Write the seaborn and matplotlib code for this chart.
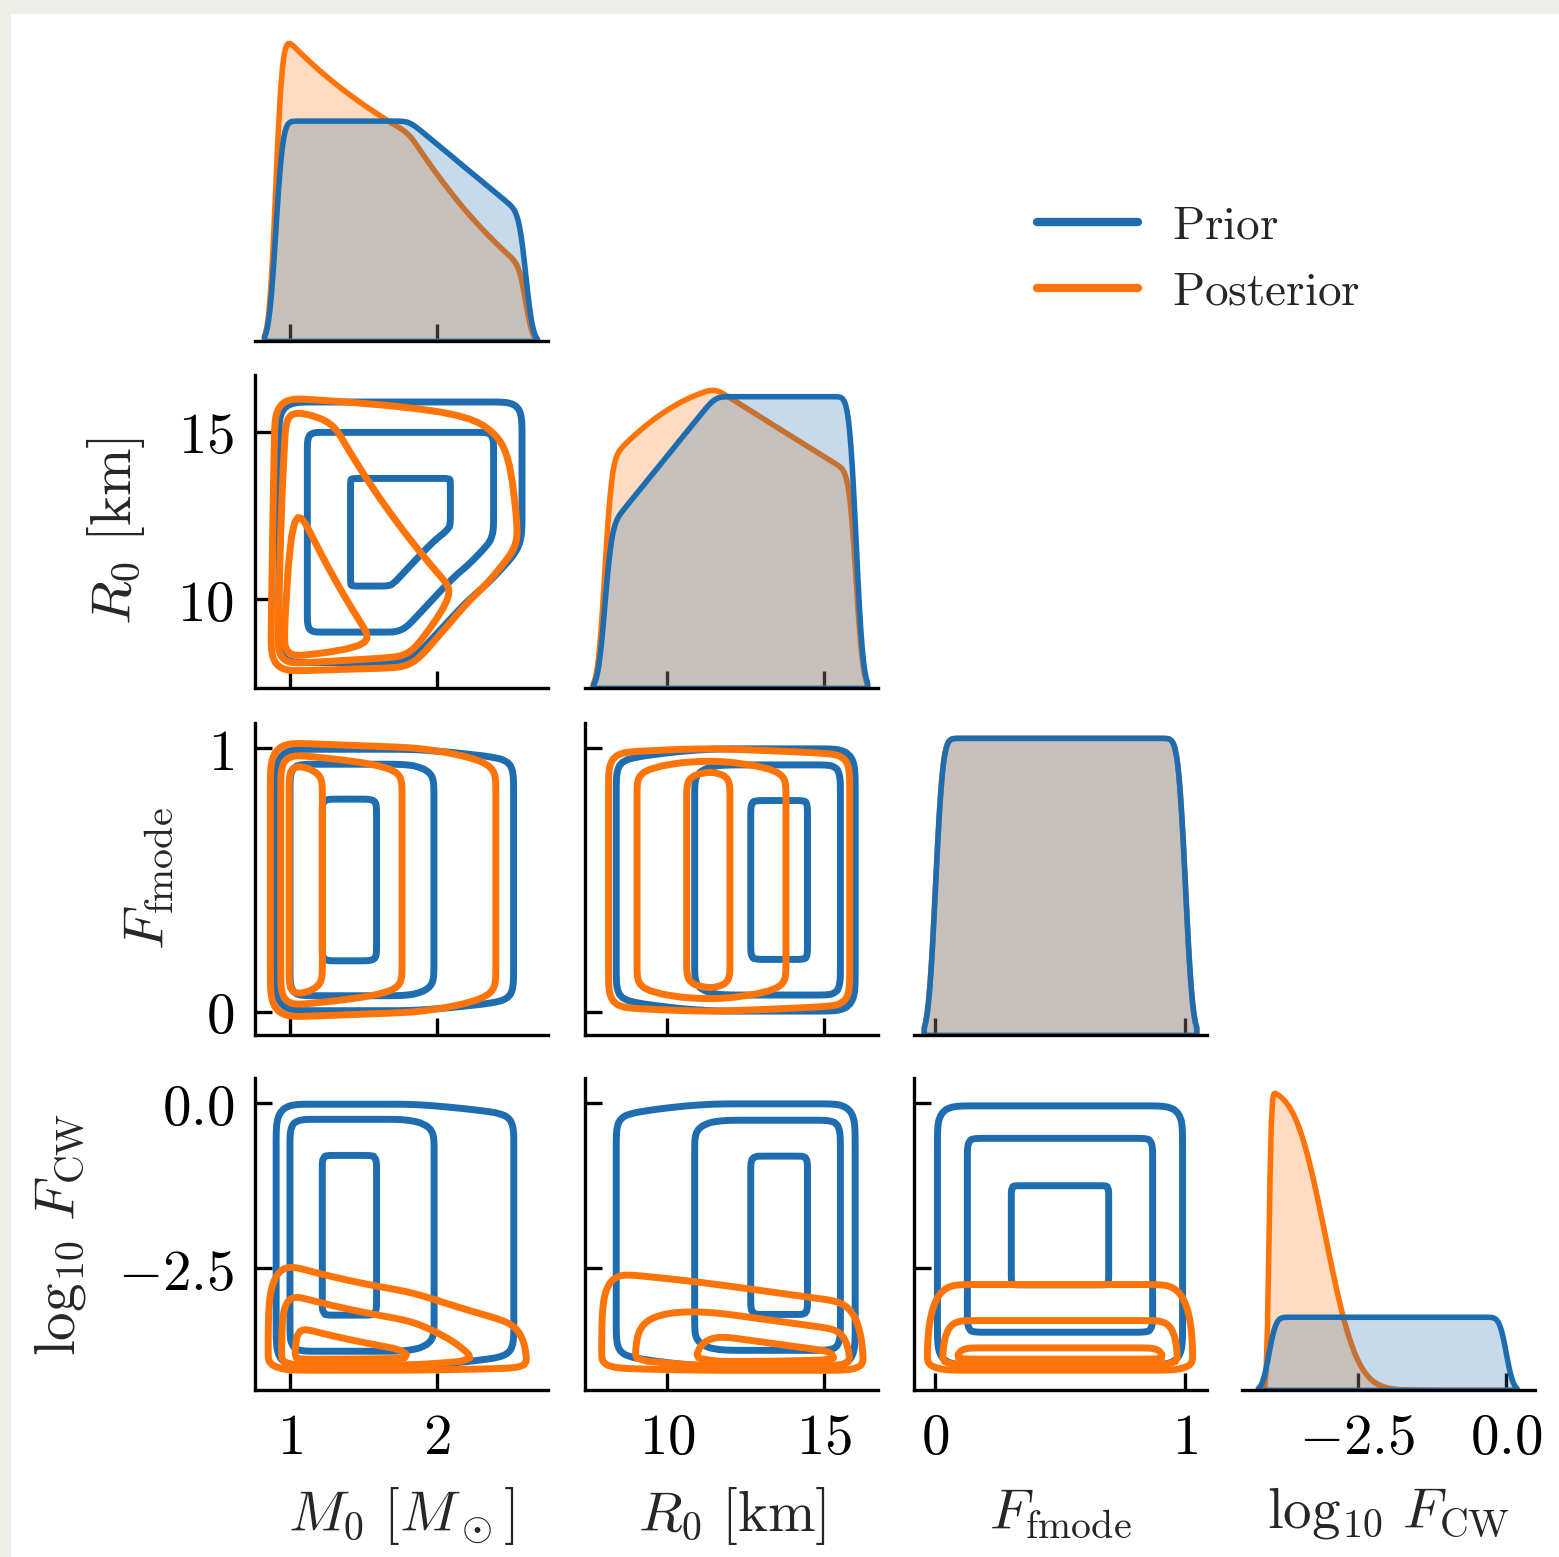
import numpy as np
import matplotlib
matplotlib.use("Agg")
import matplotlib.pyplot as plt
from matplotlib.lines import Line2D
from matplotlib.patches import Rectangle
from matplotlib.ticker import FixedLocator, FixedFormatter, NullLocator
import seaborn as sns

# ---------------------------------------------------------------------------
# Model: neutron-star mass/radius, f-mode fraction and CW amplitude fraction
# ---------------------------------------------------------------------------
PARAM_LABELS = [r"$M_0\ [M_\odot]$", r"$R_0\ [\mathrm{km}]$",
                r"$F_\mathrm{fmode}$", r"$\log_{10}\, F_\mathrm{CW}$"]

M0_RANGE = [0.9, 2.6]          # solar masses
R0_RANGE = [8.0, 16.0]         # km
FMODE_RANGE = [0.0, 1.0]
LOGFCW_RANGE = [-4.0, 0.0]
COMPACTNESS_MAX = 1.0 / 3.0    # GM / (R c^2)
GM_SUN_KM = 1.4766

# upper limit on log10 F_CW from the non-detection:
# limit = REF - s_M log10(M0 / M_sun) - s_R (R0 - 10 km), smeared by WIDTH
CW_LIMIT_AT_REF = -2.56
CW_LIMIT_SLOPES = [1.55, 0.066]
CW_LIMIT_WIDTH = 0.18

# axes
TICK_VALUES = [[1, 2], [10, 15], [0, 1], [-2.5, 0.0]]
TICK_LABELS = [["$1$", "$2$"], ["$10$", "$15$"], ["$0$", "$1$"], ["$-2.5$", "$0.0$"]]
X_LIMITS = [[0.762, 2.752], [7.39, 16.71], [-0.084, 1.088], [-4.446, 0.49]]
Y_LIMITS = [None, [7.355, 16.69], [-0.0886, 1.096], [-4.344, 0.383]]

SERIES = ["Prior", "Posterior"]
COLORS = {"Prior": "#1f6db1", "Posterior": "#ff7408"}

# iso-proportion levels of the 2-D densities
CONTOUR_LEVELS = [0.1, 0.45, 0.85]


def centres(bounds, n):
    edges = np.linspace(bounds[0], bounds[1], n + 1)
    return 0.5 * (edges[1:] + edges[:-1])


def joint_weight(m, r, l, posterior):
    """Density of (M0, R0, log10 F_CW) on a grid; F_fmode is independent."""
    M, R, L = np.meshgrid(m, r, l, indexing="ij")
    w = (R >= GM_SUN_KM * M / COMPACTNESS_MAX).astype(float)
    if posterior:
        limit = (CW_LIMIT_AT_REF - CW_LIMIT_SLOPES[0] * np.log10(M)
                 - CW_LIMIT_SLOPES[1] * (R - 10.0))
        w *= 1.0 / (1.0 + np.exp((L - limit) / CW_LIMIT_WIDTH))
    return w


# one-dimensional marginals on fine grids
FINE, COARSE = 400, 80
m_f, r_f = centres(M0_RANGE, FINE), centres(R0_RANGE, FINE)
f_f, l_f = centres(FMODE_RANGE, FINE), centres(LOGFCW_RANGE, FINE)
m_c, r_c, l_c = centres(M0_RANGE, COARSE), centres(R0_RANGE, COARSE), centres(LOGFCW_RANGE, COARSE)

marginals = {}
for s in SERIES:
    post = s == "Posterior"
    marginals[s] = [
        (m_f, joint_weight(m_f, r_c, l_c, post).sum(axis=(1, 2))),
        (r_f, joint_weight(m_c, r_f, l_c, post).sum(axis=(0, 2))),
        (f_f, np.ones(FINE)),
        (l_f, joint_weight(m_c, r_c, l_f, post).sum(axis=(0, 1))),
    ]

# two-dimensional marginals
m2, r2, l2 = centres(M0_RANGE, 60), centres(R0_RANGE, 60), centres(LOGFCW_RANGE, 60)
f2 = centres(FMODE_RANGE, 30)
ones_f = np.ones_like(f2)
pairs = {}
for s in SERIES:
    cube = joint_weight(m2, r2, l2, s == "Posterior")
    mr, ml, rl = cube.sum(axis=2), cube.sum(axis=1), cube.sum(axis=0)
    pm, pr, pl = mr.sum(axis=1), mr.sum(axis=0), ml.sum(axis=0)
    pairs[s] = {
        (1, 0): (m2, r2, mr),
        (2, 0): (m2, f2, np.outer(pm, ones_f)),
        (3, 0): (m2, l2, ml),
        (2, 1): (r2, f2, np.outer(pr, ones_f)),
        (3, 1): (r2, l2, rl),
        (3, 2): (f2, l2, np.outer(ones_f, pl)),
    }

# ---------------------------------------------------------------------------
# Figure
# ---------------------------------------------------------------------------
sns.set_theme(style="ticks")
plt.rcParams.update({
    "mathtext.fontset": "cm",
    "font.family": ["DejaVu Sans"],
    "axes.linewidth": 2.4,
    "axes.edgecolor": "black",
    "xtick.color": "black",
    "ytick.color": "black",
})

W, H = 1559, 1557
fig = plt.figure(figsize=(W / 100, H / 100), dpi=100, facecolor="#efefea")
fig.patches.append(Rectangle((11 / W, 0), 1, (H - 14) / H, transform=fig.transFigure,
                             facecolor="white", edgecolor="none", zorder=-10))

COL_LEFT = [255, 585, 914, 1242]
COL_WIDTH = 293
ROW_SPAN = [(28, 341), (375, 688), (723, 1035), (1078, 1390)]

axes = {}
for i in range(4):
    for j in range(i + 1):
        top, bottom = ROW_SPAN[i]
        axes[(i, j)] = fig.add_axes([COL_LEFT[j] / W, 1 - bottom / H,
                                     COL_WIDTH / W, (bottom - top) / H])

# diagonal: 1-D densities
for k in range(4):
    ax = axes[(k, k)]
    for s in ["Posterior", "Prior"]:
        x, w = marginals[s][k]
        sns.kdeplot(x=x, weights=w, fill=True, alpha=0.25, color=COLORS[s],
                    linewidth=4.0, bw_method=0.08, cut=2, ax=ax)
    for side in ["left", "top", "right"]:
        ax.spines[side].set_visible(False)
    ax.yaxis.set_major_locator(NullLocator())
    ax.set_ylabel("")

# lower triangle: 2-D density contours
for (i, j), ax in axes.items():
    if i == j:
        continue
    for s in SERIES:
        x, y, w = pairs[s][(i, j)]
        X, Y = np.meshgrid(x, y, indexing="ij")
        keep = w > w.max() * 1e-9
        sns.kdeplot(x=X[keep], y=Y[keep], weights=w[keep], levels=CONTOUR_LEVELS,
                    color=COLORS[s], linewidths=5.0, bw_method=0.16,
                    gridsize=100, ax=ax)
    for side in ["top", "right"]:
        ax.spines[side].set_visible(False)
    ax.set_ylim(Y_LIMITS[i])
    ax.yaxis.set_major_locator(FixedLocator(TICK_VALUES[i]))
    ax.yaxis.set_major_formatter(FixedFormatter(TICK_LABELS[i]))

for (i, j), ax in axes.items():
    ax.set_xlim(X_LIMITS[j])
    ax.xaxis.set_major_locator(FixedLocator(TICK_VALUES[j]))
    ax.xaxis.set_major_formatter(FixedFormatter(TICK_LABELS[j]))
    ax.tick_params(direction="in", length=12, width=2.4, pad=15, labelsize=41,
                   bottom=True, left=(i != j))
    ax.tick_params(axis="x", labelbottom=(i == 3))
    ax.tick_params(axis="y", labelleft=(j == 0 and i != j))
    ax.set_xlabel(PARAM_LABELS[j] if i == 3 else "", fontsize=41, labelpad=14)
    if j == 0 and i > 0:
        ax.set_ylabel(PARAM_LABELS[i], fontsize=41, labelpad=22)
    else:
        ax.set_ylabel("")
    ax.set_facecolor("none")

handles = [Line2D([], [], color=COLORS[s], lw=6) for s in SERIES]
fig.legend(handles, [r"$\mathrm{%s}$" % s for s in SERIES],
           loc="center left", bbox_to_anchor=(1037 / W, 1 - 259 / H),
           frameon=False, fontsize=34, handlelength=2.13, handletextpad=0.72,
           labelspacing=0.45, borderpad=0, borderaxespad=0)

fig.savefig("out.png", dpi=100, facecolor=fig.get_facecolor())
